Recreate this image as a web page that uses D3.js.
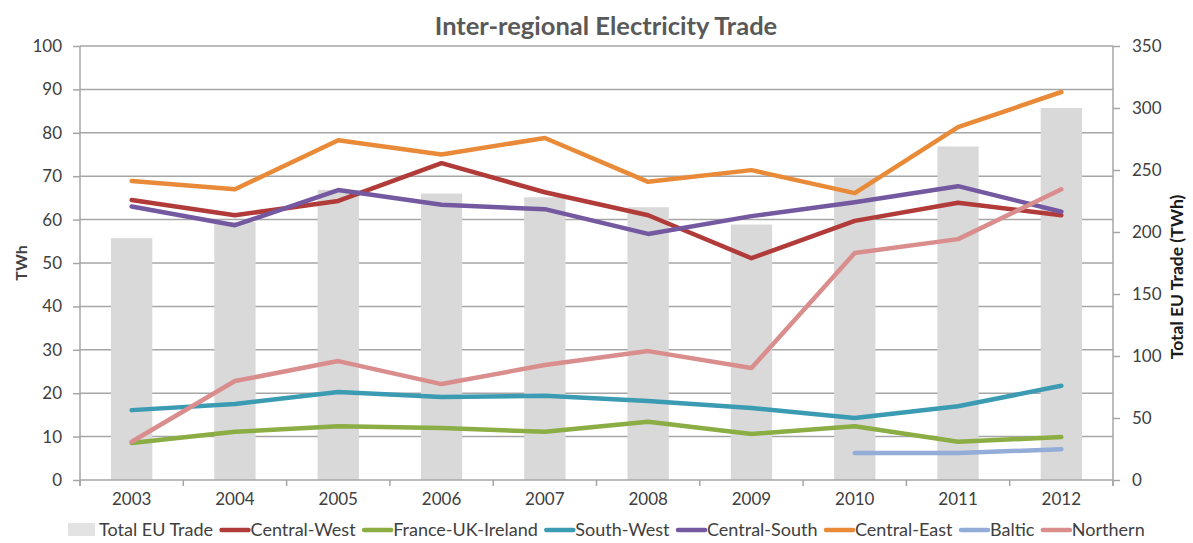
<!DOCTYPE html>
<html>
<head>
<meta charset="utf-8">
<script src="https://cdn.jsdelivr.net/npm/d3@7"></script>
<style>
  html, body { margin: 0; padding: 0; background: #ffffff; }
  svg { display: block; font-family: Lato, "Open Sans", sans-serif; }
</style>
</head>
<body>
<svg id="chart" width="1193" height="543"></svg>
<script>
// Years on the category axis
const years = ["2003", "2004", "2005", "2006", "2007", "2008", "2009", "2010", "2011", "2012"];

// Total EU trade (right axis, TWh)
const totalEU = [195, 208, 234, 231, 228, 220, 206, 244, 269, 300];

// Regional trade (left axis, TWh)
const centralWest   = [64.5, 61.0, 64.3, 73.0, 66.3, 61.0, 51.1, 59.7, 63.9, 61.0];
const franceUKIre   = [8.5, 11.1, 12.4, 12.0, 11.1, 13.4, 10.6, 12.4, 8.8, 9.9];
const southWest     = [16.1, 17.5, 20.3, 19.1, 19.4, 18.2, 16.6, 14.3, 17.0, 21.7];
const centralSouth  = [63.0, 58.7, 66.8, 63.4, 62.4, 56.7, 60.8, 64.0, 67.7, 61.8];
const centralEast   = [68.9, 67.0, 78.3, 75.0, 78.8, 68.7, 71.4, 66.1, 81.3, 89.4];
const baltic        = [null, null, null, null, null, null, null, 6.2, 6.2, 7.1];
const northern      = [8.8, 22.8, 27.4, 22.1, 26.5, 29.7, 25.8, 52.3, 55.5, 67.0];

// Axis ticks
const leftTicks  = [0, 10, 20, 30, 40, 50, 60, 70, 80, 90, 100];
const rightTicks = [0, 50, 100, 150, 200, 250, 300, 350];

const seriesNames  = ["Central-West", "France-UK-Ireland", "South-West", "Central-South", "Central-East", "Baltic", "Northern"];
const seriesValues = [centralWest, franceUKIre, southWest, centralSouth, centralEast, baltic, northern];
const seriesColors = ["#B03B39", "#8AAD44", "#3A9BB2", "#7458A0", "#E98A38", "#94ACD8", "#D98E8D"];

const svg = d3.select("#chart");
const margin = { left: 80, right: 80, top: 46, bottom: 63 };
const W = 1193, H = 543;
const x0 = margin.left, x1 = W - margin.right;
const y0 = H - margin.bottom, y1 = margin.top;

const x = d3.scaleBand().domain(years).range([x0, x1]).paddingInner(0).paddingOuter(0);
const yL = d3.scaleLinear().domain([0, 100]).range([y0, y1]);
const yR = d3.scaleLinear().domain([0, 350]).range([y0, y1]);

const gridColor = "#A6A6A6";
const textColor = "#404040";

// Horizontal gridlines
svg.append("g")
  .selectAll("line")
  .data(leftTicks.filter(d => d > 0))
  .join("line")
  .attr("x1", x0).attr("x2", x1)
  .attr("y1", d => yL(d)).attr("y2", d => yL(d))
  .attr("stroke", gridColor).attr("stroke-width", 1.5);

// Total EU trade columns
const barW = x.bandwidth() * 0.4;
svg.append("g")
  .selectAll("rect")
  .data(years.map((yr, i) => ({ yr, v: totalEU[i] })))
  .join("rect")
  .attr("x", d => x(d.yr) + (x.bandwidth() - barW) / 2)
  .attr("width", barW)
  .attr("y", d => yR(d.v))
  .attr("height", d => yR(0) - yR(d.v))
  .attr("fill", "#D9D9D9");

// Left axis
const axL = svg.append("g")
  .attr("transform", `translate(${x0},0)`)
  .call(d3.axisLeft(yL).tickValues(leftTicks).tickSize(7).tickPadding(11));
// Right axis
const axR = svg.append("g")
  .attr("transform", `translate(${x1},0)`)
  .call(d3.axisRight(yR).tickValues(rightTicks).tickSize(7).tickPadding(12));
// Bottom axis: ticks at category boundaries
const boundaries = years.map(y => x(y)).concat([x1]);
const axB = svg.append("g")
  .attr("transform", `translate(0,${y0})`);
axB.append("line").attr("x1", x0).attr("x2", x1).attr("stroke", gridColor).attr("stroke-width", 1.5);
axB.selectAll("line.tk").data(boundaries).join("line").attr("class", "tk")
  .attr("x1", d => d).attr("x2", d => d).attr("y1", 0).attr("y2", 6)
  .attr("stroke", gridColor).attr("stroke-width", 1.5);
axB.selectAll("text").data(years).join("text")
  .attr("x", d => x(d) + x.bandwidth() / 2)
  .attr("y", 25)
  .attr("text-anchor", "middle")
  .attr("fill", textColor)
  .attr("font-size", 17)
  .text(d => d);

[axL, axR].forEach(g => {
  g.select(".domain").attr("stroke", gridColor).attr("stroke-width", 1.5);
  g.selectAll(".tick line").attr("stroke", gridColor).attr("stroke-width", 1.5);
  g.selectAll(".tick text").attr("fill", textColor).attr("font-size", 17)
    .attr("font-family", "Lato, sans-serif");
});
axL.select(".domain").attr("d", `M0,${y0 + 6}V${y1}`);
axR.select(".domain").attr("d", `M0,${y0 + 6}V${y1}`);

// Regional trade lines
const line = d3.line()
  .defined(d => d.v !== null)
  .x(d => x(d.yr) + x.bandwidth() / 2)
  .y(d => yL(d.v));

svg.append("g")
  .selectAll("path")
  .data(seriesValues.map((vals, i) => ({ color: seriesColors[i], pts: years.map((yr, j) => ({ yr, v: vals[j] })) })))
  .join("path")
  .attr("d", d => line(d.pts))
  .attr("fill", "none")
  .attr("stroke", d => d.color)
  .attr("stroke-width", 4.5)
  .attr("stroke-linejoin", "round")
  .attr("stroke-linecap", "round");

// Title
svg.append("text")
  .attr("x", 606).attr("y", 35)
  .attr("text-anchor", "middle")
  .attr("font-size", 25.5).attr("font-weight", "bold")
  .attr("fill", "#595959")
  .text("Inter-regional Electricity Trade");

// Axis titles
svg.append("text")
  .attr("transform", `translate(27,${(y0 + y1) / 2}) rotate(-90)`)
  .attr("text-anchor", "middle")
  .attr("font-size", 16).attr("font-weight", "bold")
  .attr("fill", textColor)
  .text("TWh");
svg.append("text")
  .attr("transform", `translate(1183,${(y0 + y1) / 2 + 14}) rotate(-90)`)
  .attr("text-anchor", "middle")
  .attr("font-size", 17.5).attr("font-weight", "bold")
  .attr("fill", "#1a1a1a")
  .text("Total EU Trade (TWh)");

// Legend
const legendItems = [{ name: "Total EU Trade", color: "#E3E3E3", bar: true }]
  .concat(seriesNames.map((n, i) => ({ name: n, color: seriesColors[i], bar: false })));
const legend = svg.append("g").attr("transform", "translate(0,536)");
let lx = 68;
legendItems.forEach(it => {
  if (it.bar) {
    legend.append("rect").attr("x", lx).attr("y", -13).attr("width", 27).attr("height", 13).attr("fill", it.color);
  } else {
    legend.append("line").attr("x1", lx + 2).attr("x2", lx + 29).attr("y1", -6).attr("y2", -6)
      .attr("stroke", it.color).attr("stroke-width", 4.5).attr("stroke-linecap", "round");
  }
  const t = legend.append("text").attr("x", lx + 31).attr("y", 0)
    .attr("font-size", 18).attr("fill", textColor).text(it.name);
  lx += 31 + t.node().getComputedTextLength() + 6.5;
});
</script>
</body>
</html>
